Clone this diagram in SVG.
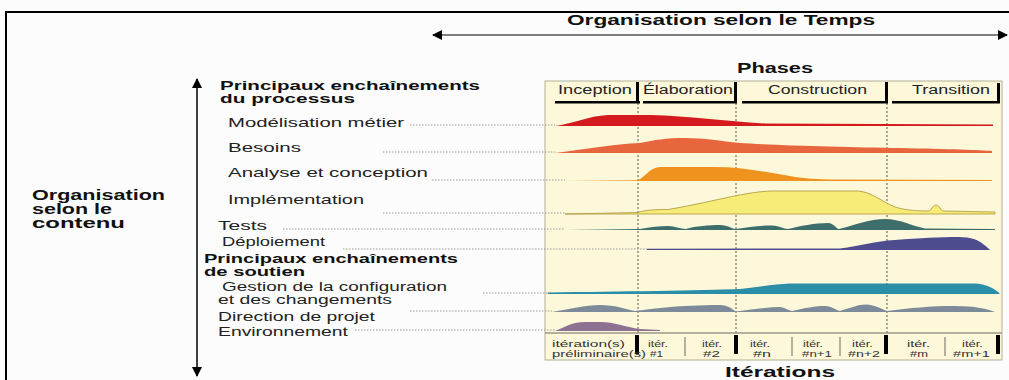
<svg xmlns="http://www.w3.org/2000/svg" width="1009" height="380" viewBox="0 0 1009 380">
<defs>
<marker id="ah" viewBox="0 0 10 10" refX="9" refY="5" markerWidth="10" markerHeight="10" markerUnits="userSpaceOnUse" orient="auto-start-reverse"><path d="M0,0 L10,5 L0,10 Z" fill="#000"/></marker>
<style>
text{font-family:"Liberation Sans",Arial,sans-serif;fill:#222}
.b{font-weight:bold;fill:#111}
.lbl{font-size:13px}
.sm{font-size:12px}
.hd{font-size:13px;font-weight:bold;fill:#111}
.ph{font-size:12px;fill:#222}
.it{font-size:9px;fill:#333}
.lead{stroke:#9a9a9a;stroke-width:1;stroke-dasharray:1.5 1.5;fill:none}
.vd{stroke:#555;stroke-width:1;stroke-dasharray:2 2;fill:none}
.bar{fill:#000}
.sep{stroke:#9a9a8a;stroke-width:1.5}
</style>
</defs>
<rect x="0" y="0" width="1009" height="380" fill="#fcfcfc"/>
<path d="M6,380 L6,12 L1009,12" fill="none" stroke="#000" stroke-width="2"/>

<g id="connectors">
<line x1="433" y1="35" x2="1007" y2="35" stroke="#000" stroke-width="1.2" marker-start="url(#ah)" marker-end="url(#ah)"/>
<line x1="197" y1="79" x2="197" y2="376" stroke="#000" stroke-width="1.5" marker-start="url(#ah)" marker-end="url(#ah)"/>
</g>

<g id="title-temps"><text class="b" x="567" y="25" font-size="14" textLength="308" lengthAdjust="spacingAndGlyphs">Organisation selon le Temps</text></g>
<g id="title-contenu">
<text class="b" x="32" y="200" font-size="14" textLength="133" lengthAdjust="spacingAndGlyphs">Organisation</text>
<text class="b" x="32" y="214" font-size="14" textLength="80" lengthAdjust="spacingAndGlyphs">selon le</text>
<text class="b" x="32" y="228" font-size="14" textLength="93" lengthAdjust="spacingAndGlyphs">contenu</text>
</g>

<g id="panel">
<rect x="545" y="81" width="457" height="279" fill="#fdf8d9" stroke="#b4ad96" stroke-width="1"/>
<text class="b" x="737" y="73" font-size="14" textLength="76" lengthAdjust="spacingAndGlyphs">Phases</text>
<text class="b" x="725" y="377" font-size="14" textLength="110" lengthAdjust="spacingAndGlyphs">Itérations</text>
<line class="vd" x1="638" y1="103" x2="638" y2="333"/>
<line class="vd" x1="736" y1="103" x2="736" y2="333"/>
<line class="vd" x1="887" y1="103" x2="887" y2="333"/>
</g>

<g id="phase-inception">
<text class="ph" x="558" y="94" textLength="74" lengthAdjust="spacingAndGlyphs">Inception</text>
<rect class="bar" x="555" y="101" width="85" height="2.5"/><rect class="bar" x="636" y="82" width="3" height="21"/>
</g>
<g id="phase-elaboration">
<text class="ph" x="643" y="94" textLength="90" lengthAdjust="spacingAndGlyphs">Élaboration</text>
<rect class="bar" x="643" y="101" width="94" height="2.5"/><rect class="bar" x="734" y="82" width="3" height="21"/>
</g>
<g id="phase-construction">
<text class="ph" x="768" y="94" textLength="99" lengthAdjust="spacingAndGlyphs">Construction</text>
<rect class="bar" x="742" y="101" width="146" height="2.5"/><rect class="bar" x="885" y="82" width="3" height="21"/>
</g>
<g id="phase-transition">
<text class="ph" x="912" y="94" textLength="78" lengthAdjust="spacingAndGlyphs">Transition</text>
<rect class="bar" x="892" y="101" width="108" height="2.5"/><rect class="bar" x="997" y="83" width="3" height="20"/>
</g>

<g id="hdr-processus">
<text class="hd" x="220" y="90" textLength="260" lengthAdjust="spacingAndGlyphs">Principaux enchaînements</text>
<text class="hd" x="220" y="103" textLength="135" lengthAdjust="spacingAndGlyphs">du processus</text>
</g>

<g id="row-modelisation">
<text class="lbl" x="228" y="127" textLength="176" lengthAdjust="spacingAndGlyphs">Modélisation métier</text>
<line class="lead" x1="410" y1="125" x2="555" y2="125"/>
<path d="M555,126 C572,124 588,116 608,115 L650,115 C690,116 725,121 765,123.5 L993,124.5 L993,126 Z" fill="#d41a1c"/>
</g>
<g id="row-besoins">
<text class="lbl" x="228" y="152" textLength="73" lengthAdjust="spacingAndGlyphs">Besoins</text>
<line class="lead" x1="383" y1="152" x2="555" y2="152"/>
<path d="M555,153 C580,150 615,144 640,143 C655,140 665,138 685,138 C705,138 720,141 740,143 C770,145 850,147 900,148 C950,149 980,150 992,151 L992,153 Z" fill="#e8663e"/>
</g>
<g id="row-analyse">
<text class="lbl" x="228" y="177" textLength="200" lengthAdjust="spacingAndGlyphs">Analyse et conception</text>
<line class="lead" x1="432" y1="180" x2="565" y2="180"/>
<path d="M565,181 L636,180.3 C645,179 648,168 660,167 L715,167 C740,167 760,171 790,176 C800,178 810,179 830,179.5 L992,180 L992,181 Z" fill="#f0921e"/>
</g>
<g id="row-implementation">
<text class="lbl" x="228" y="204" textLength="136" lengthAdjust="spacingAndGlyphs">Implémentation</text>
<line class="lead" x1="383" y1="213" x2="565" y2="213"/>
<path d="M565,214 L638,212.5 C645,210 655,209.5 668,209.5 C690,206 715,200 737,195.5 C755,192 765,191 775,191 L858,191 C872,192 882,202 895,207 C905,210 915,211 928,211 C932,211 932,205 936,205 C940,205 940,211 944,211 L995,212 L995,214 Z" fill="#f8ec78" stroke="#a8963a" stroke-width="0.8"/>
</g>
<g id="row-tests">
<text class="lbl" x="218" y="230" textLength="49" lengthAdjust="spacingAndGlyphs">Tests</text>
<line class="lead" x1="283" y1="229" x2="565" y2="229"/>
<path d="M565,230 L640,229 C650,227 660,226 668,226 C675,226 680,229 686,229 C695,226 710,225 720,225 C728,225 732,229 736,229 C748,227 760,225.5 772,225.5 C780,226 784,229 788,229 C800,226 815,223 828,223 C834,223 836,229 839,229 C855,225 870,219 885,219 C900,219 912,226 925,228.5 L995,229 L995,230 Z" fill="#3e6e6c"/>
</g>
<g id="row-deploiement">
<text class="lbl" x="222" y="246" textLength="103" lengthAdjust="spacingAndGlyphs">Déploiement</text>
<line class="lead" x1="343" y1="249" x2="647" y2="249"/>
<path d="M647,250 L647,248.8 L840,248.5 C860,246 875,241 895,240 C920,238 940,237 958,237 C972,237 978,240 983,244 C987,247 989,249 990,250 Z" fill="#4c4c8e"/>
</g>

<g id="hdr-soutien">
<text class="hd" x="204" y="263" textLength="254" lengthAdjust="spacingAndGlyphs">Principaux enchaînements</text>
<text class="hd" x="204" y="276" textLength="101" lengthAdjust="spacingAndGlyphs">de soutien</text>
</g>

<g id="row-gestion">
<text class="sm" x="222" y="291" textLength="225" lengthAdjust="spacingAndGlyphs">Gestion de la configuration</text>
<text class="sm" x="218" y="304" textLength="174" lengthAdjust="spacingAndGlyphs">et des changements</text>
<line class="lead" x1="483" y1="293" x2="548" y2="293"/>
<path d="M548,294 L548,292.5 C620,291.5 700,290.5 740,289 C760,287 775,284 790,283.5 L975,283.5 C985,284 995,288 1000,294 Z" fill="#2a8ea8"/>
</g>
<g id="row-direction">
<text class="lbl" x="218" y="321" textLength="157" lengthAdjust="spacingAndGlyphs">Direction de projet</text>
<line class="lead" x1="410" y1="311" x2="552" y2="311"/>
<path d="M552,312 C570,309 585,305 600,305 C615,305 625,309 635,311 C650,309 680,305 720,305 C728,305 732,309 736,311.5 C755,309 770,307 780,307 C786,308 790,311 792,311 C805,308 815,306 826,306 C833,307 836,310 840,311 C850,308 858,304.5 866,304.5 C875,305 882,309 887,311 C910,308 930,306 955,306 C975,306 988,309 995,312 Z" fill="#7c8a9a"/>
</g>
<g id="row-environnement">
<text class="lbl" x="218" y="336" textLength="130" lengthAdjust="spacingAndGlyphs">Environnement</text>
<line class="lead" x1="355" y1="330" x2="555" y2="330"/>
<path d="M555,331 C565,327 572,322 585,322 L600,322 C615,322 625,327 640,329 L660,330 L660,331 Z" fill="#8c7290"/>
</g>

<g id="iterations">
<line x1="545" y1="333" x2="1002" y2="333" stroke="#9a9a8a" stroke-width="1.5"/>
<rect class="bar" x="635" y="335" width="4" height="19"/>
<rect class="bar" x="734" y="335" width="4" height="19"/>
<rect class="bar" x="884" y="335" width="4" height="19"/>
<rect class="bar" x="996" y="335" width="4" height="19"/>
<line class="sep" x1="685" y1="337" x2="685" y2="356"/>
<line class="sep" x1="792" y1="337" x2="792" y2="356"/>
<line class="sep" x1="840" y1="337" x2="840" y2="356"/>
<line class="sep" x1="945" y1="337" x2="945" y2="356"/>
<text class="it" x="552" y="347" textLength="73" lengthAdjust="spacingAndGlyphs">itération(s)</text>
<text class="it" x="552" y="357" textLength="94" lengthAdjust="spacingAndGlyphs">préliminaire(s)</text>
<text class="it" x="648" y="347" textLength="20" lengthAdjust="spacingAndGlyphs">itér.</text>
<text class="it" x="650" y="357" textLength="13" lengthAdjust="spacingAndGlyphs">#1</text>
<text class="it" x="702" y="347" textLength="20" lengthAdjust="spacingAndGlyphs">itér.</text>
<text class="it" x="703" y="357" textLength="17" lengthAdjust="spacingAndGlyphs">#2</text>
<text class="it" x="750" y="347" textLength="20" lengthAdjust="spacingAndGlyphs">itér.</text>
<text class="it" x="753" y="357" textLength="18" lengthAdjust="spacingAndGlyphs">#n</text>
<text class="it" x="803" y="347" textLength="20" lengthAdjust="spacingAndGlyphs">itér.</text>
<text class="it" x="802" y="357" textLength="30" lengthAdjust="spacingAndGlyphs">#n+1</text>
<text class="it" x="852" y="347" textLength="21" lengthAdjust="spacingAndGlyphs">itér.</text>
<text class="it" x="848" y="357" textLength="32" lengthAdjust="spacingAndGlyphs">#n+2</text>
<text class="it" x="907" y="347" textLength="23" lengthAdjust="spacingAndGlyphs">itér.</text>
<text class="it" x="910" y="357" textLength="18" lengthAdjust="spacingAndGlyphs">#m</text>
<text class="it" x="962" y="347" textLength="21" lengthAdjust="spacingAndGlyphs">itér.</text>
<text class="it" x="953" y="357" textLength="37" lengthAdjust="spacingAndGlyphs">#m+1</text>
</g>
</svg>
